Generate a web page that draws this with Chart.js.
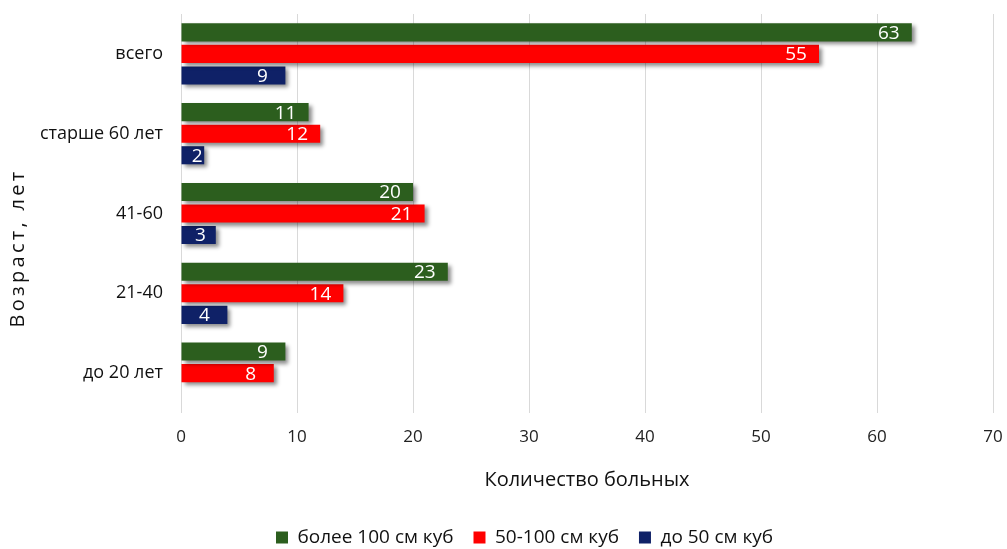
<!DOCTYPE html>
<html><head><meta charset="utf-8">
<script src="https://cdn.jsdelivr.net/npm/chart.js@4"></script>
<style>html,body{margin:0;padding:0;background:#fff}#wrap{width:1007px;height:549px}</style>
</head><body><div id="wrap"><canvas id="c" width="1007" height="549"></canvas></div>
<script>
const categories = ["всего", "старше 60 лет", "41-60", "21-40", "до 20 лет"];
const seriesNames = ["более 100 см куб", "50-100 см куб", "до 50 см куб"];
const over100 = [63, 11, 20, 23, 9];
const from50to100 = [55, 12, 21, 14, 8];
const under50 = [9, 2, 3, 4, 0];
const xTicks = [0, 10, 20, 30, 40, 50, 60, 70];
const xTitle = "Количество больных";
const yTitle = "Возраст, лет";
const colors = ["#2c5e1e", "#ff0000", "#0f2167"];
const FONT = "'Open Sans', sans-serif";

const decorPlugin = {
  id: 'decor',
  afterLayout(chart) {
    if (chart.legend) { chart.legend.left += 28; chart.legend.right += 28; }
  },
  beforeDatasetsDraw(chart) {
    const ctx = chart.ctx; ctx.save();
    ctx.shadowColor = 'rgba(0,0,0,0.45)'; ctx.shadowBlur = 4; ctx.shadowOffsetX = 3; ctx.shadowOffsetY = 3;
  },
  afterDatasetsDraw(chart) {
    const ctx = chart.ctx; ctx.restore();
    ctx.save();
    ctx.fillStyle = '#fff'; ctx.font = "19px " + FONT; ctx.textAlign = 'center'; ctx.textBaseline = 'middle';
    chart.data.datasets.forEach((ds, i) => {
      chart.getDatasetMeta(i).data.forEach((bar, j) => {
        if (ds.data[j] > 0) {
          const cx = Math.min(Math.max(bar.x - 23, bar.base + 19), bar.x - 7);
          ctx.fillText(String(ds.data[j]), cx, bar.y + 1);
        }
      });
    });
    ctx.restore();
  },
  afterDraw(chart) {
    const ctx = chart.ctx; ctx.save();
    ctx.translate(18, 248); ctx.rotate(-Math.PI / 2);
    ctx.font = "20px " + FONT; ctx.fillStyle = '#111'; ctx.textAlign = 'center'; ctx.textBaseline = 'middle';
    try { ctx.letterSpacing = '3.3px'; } catch (e) {}
    ctx.fillText(yTitle, 0, 0);
    ctx.restore();
  }
};

new Chart(document.getElementById('c'), {
  type: 'bar',
  data: {
    labels: categories,
    datasets: [
      { label: seriesNames[0], data: over100, backgroundColor: colors[0] },
      { label: seriesNames[1], data: from50to100, backgroundColor: colors[1] },
      { label: seriesNames[2], data: under50, backgroundColor: colors[2] }
    ]
  },
  options: {
    indexAxis: 'y', responsive: false, animation: false,
    categoryPercentage: 0.81, barPercentage: 0.84,
    layout: { padding: { top: 14, right: 14, left: 0, bottom: -8 } },
    scales: {
      x: {
        min: 0, max: 70,
        afterBuildTicks(s) { s.ticks = xTicks.map(v => ({ value: v })); },
        afterFit(s) { s.height = 95; s.paddingLeft = 0; s.paddingRight = 0; },
        grid: { color: '#d9d9d9', drawTicks: false },
        border: { display: false },
        ticks: { color: '#222', font: { size: 17, family: FONT }, padding: 14 },
        title: { display: true, text: xTitle, color: '#111', font: { size: 20, family: FONT }, padding: { top: 10, bottom: 16 } }
      },
      y: {
        afterFit(s) { s.width = 181; s.paddingTop = 0; s.paddingBottom = 0; },
        grid: { display: false, drawTicks: false }, border: { display: false },
        ticks: { color: '#111', font: { size: 18, family: FONT }, padding: 18 }
      }
    },
    plugins: {
      legend: {
        position: 'bottom',
        labels: { boxWidth: 12, boxHeight: 12, font: { size: 19, family: FONT }, color: '#111', padding: 20 }
      },
      tooltip: { enabled: false }
    }
  },
  plugins: [decorPlugin]
});
</script></body></html>
